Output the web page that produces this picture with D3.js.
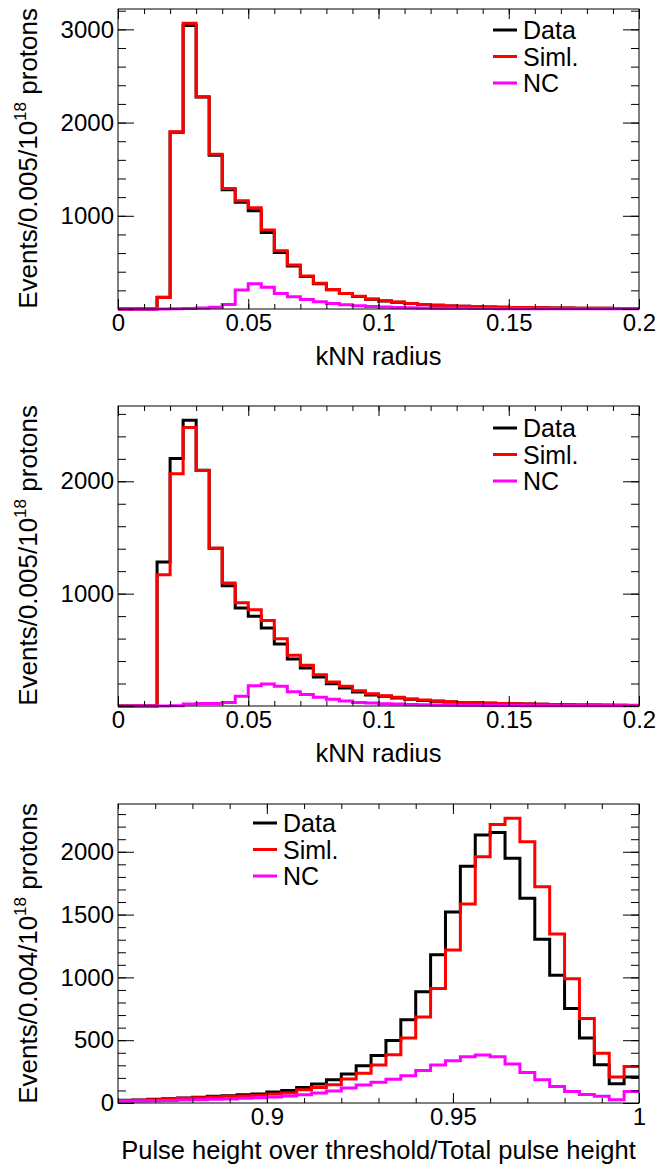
<!DOCTYPE html>
<html>
<head>
<meta charset="utf-8">
<script src="https://cdn.jsdelivr.net/npm/d3@7"></script>
<style>
  body { margin: 0; background: #fff; }
  svg text { font-family: "Liberation Sans", Arial, Helvetica, sans-serif; fill: #000; }
</style>
</head>
<body>
<svg id="chart" width="657" height="1166"></svg>
<script>
// ---- Histogram contents ----
// kNN radius, bins of 0.005 from 0 to 0.2 (selection A)
const knnA_data = [0,0,0,125,1895,3040,2275,1650,1280,1145,1055,822,607,460,348,270,207,165,135,104,86,72,59,48,40,33,29,25,22,19,17,15,13,11,10,9,8,7,6,5];
const knnA_siml = [0,0,0,124,1901,3065,2277,1659,1294,1161,1086,847,624,471,353,275,210,167,138,106,88,74,60,49,40,33,30,26,22,20,17,15,13,11,10,9,8,7,6,5];
const knnA_nc   = [0,0,0,0,3,6,10,20,48,203,271,232,167,131,103,77,60,45,34,27,21,17,14,11,9,8,7,6,5,4,4,3,3,3,2,2,2,2,2,2];

// kNN radius, bins of 0.005 from 0 to 0.2 (selection B)
const knnB_data = [0,0,0,1282,2202,2543,2098,1403,1071,873,798,694,552,418,338,258,198,160,124,99,86,71,59,50,42,36,31,28,25,22,19,17,15,13,11,10,8,7,6,5];
const knnB_siml = [0,0,0,1169,2068,2478,2095,1405,1095,920,857,760,599,451,362,279,213,175,136,110,92,77,62,53,44,38,32,29,26,23,20,18,16,14,12,10,9,8,7,6];
const knnB_nc   = [0,0,0,0,3,18,23,23,32,86,181,196,175,127,103,77,59,44,32,26,20,17,14,11,9,8,7,6,5,4,4,3,3,3,2,2,2,2,2,2];

// Pulse-height fraction, bins of 0.004 from 0.86 to 1.0
const phf_data = [21,24,29,34,40,45,53,58,66,71,87,100,124,151,185,230,297,378,498,662,885,1181,1521,1884,2133,2154,1948,1630,1304,1017,752,517,304,153,207];
const phf_siml = [19,21,26,32,37,42,48,53,56,62,71,79,106,124,145,191,236,302,384,517,684,911,1219,1584,1960,2218,2267,2080,1722,1346,990,673,397,207,291];
const phf_nc   = [13,15,17,20,23,26,29,32,37,42,48,56,66,79,95,119,143,165,190,217,259,302,336,368,382,368,310,243,185,132,92,68,53,26,92];

// ---- Axis ticks ----
const knnTicks = [0, 0.05, 0.1, 0.15, 0.2];
const knnTickLabels = ["0", "0.05", "0.1", "0.15", "0.2"];
const phfTicks = [0.9, 0.95, 1.0];
const phfTickLabels = ["0.9", "0.95", "1"];
const knnYTicks = [0, 1000, 2000, 3000];
const knnYTickLabels = ["", "1000", "2000", "3000"];
const phfYTicks = [0, 500, 1000, 1500, 2000];
const phfYTickLabels = ["0", "500", "1000", "1500", "2000"];

const seriesNames = ["Data", "Siml.", "NC"];
const seriesColors = ["#000000", "#ff0000", "#ff00ff"];

const panels = [
  { top: 9, bottom: 309, xRange: [0, 0.2], binW: 0.005, series: [knnA_data, knnA_siml, knnA_nc],
    xTicks: knnTicks, xLabels: knnTickLabels, xMinorStep: 0.01,
    yTicks: knnYTicks, yLabels: knnYTickLabels, yMinorStep: 200,
    xTitle: "kNN radius", yTitle: ["Events/0.005/10", "18", " protons"], legend: { x: 493, y: 30 } },
  { top: 406, bottom: 706, xRange: [0, 0.2], binW: 0.005, series: [knnB_data, knnB_siml, knnB_nc],
    xTicks: knnTicks, xLabels: knnTickLabels, xMinorStep: 0.01,
    yTicks: knnYTicks, yLabels: knnYTickLabels, yMinorStep: 200,
    xTitle: "kNN radius", yTitle: ["Events/0.005/10", "18", " protons"], legend: { x: 493, y: 428 } },
  { top: 804, bottom: 1103, xRange: [0.86, 1.0], binW: 0.004, series: [phf_data, phf_siml, phf_nc],
    xTicks: phfTicks, xLabels: phfTickLabels, xMinorStep: 0.01,
    yTicks: phfYTicks, yLabels: phfYTickLabels, yMinorStep: 100,
    xTitle: "Pulse height over threshold/Total pulse height", yTitle: ["Events/0.004/10", "18", " protons"], legend: { x: 253, y: 823 } }
];

const LEFT = 118, RIGHT = 639;
const svg = d3.select("#chart");

function rangeStep(lo, hi, step) {
  const n = Math.round((hi - lo) / step);
  return d3.range(n + 1).map(i => +(lo + i * step).toFixed(6));
}

panels.forEach((p, pi) => {
  const x = d3.scaleLinear().domain(p.xRange).range([LEFT, RIGHT]);
  const yMax = 1.05 * d3.max(p.series.flat());
  const y = d3.scaleLinear().domain([0, yMax]).range([p.bottom, p.top]);
  const g = svg.append("g");

  const clipId = "clip" + pi;
  svg.append("clipPath").attr("id", clipId)
    .append("rect").attr("x", LEFT).attr("y", p.top - 2)
    .attr("width", RIGHT - LEFT).attr("height", p.bottom - p.top + 4);

  // histogram outlines
  const nb = p.series[0].length;
  const edges = d3.range(nb + 1).map(i => p.xRange[0] + i * p.binW);
  const line = d3.line().x(d => x(d[0])).y(d => y(d[1])).curve(d3.curveStepAfter);
  const hg = g.append("g").attr("clip-path", `url(#${clipId})`);
  p.series.forEach((vals, si) => {
    const pts = vals.map((v, i) => [edges[i], v]);
    pts.push([edges[nb], vals[nb - 1]]);
    hg.append("path").attr("d", line(pts))
      .attr("fill", "none").attr("stroke", seriesColors[si])
      .attr("stroke-width", 3).attr("stroke-linejoin", "miter").attr("stroke-linecap", "butt");
  });

  // frame
  g.append("rect").attr("x", LEFT).attr("y", p.top)
    .attr("width", RIGHT - LEFT).attr("height", p.bottom - p.top)
    .attr("fill", "none").attr("stroke", "#000").attr("stroke-width", 1);

  const xMinor = rangeStep(p.xRange[0], p.xRange[1], p.xMinorStep);
  const yMinor = rangeStep(0, Math.floor(yMax / p.yMinorStep) * p.yMinorStep, p.yMinorStep);
  // only major ticks that fall inside the plotted range
  const yMajorIdx = p.yTicks.map((t, i) => i).filter(i => p.yTicks[i] <= yMax);
  const yMajor = yMajorIdx.map(i => p.yTicks[i]);
  const yMajorLabels = yMajorIdx.map(i => p.yLabels[i]);

  // x axis (bottom, labelled) and top mirror, ticks pointing inward
  const xb = g.append("g").attr("transform", `translate(0,${p.bottom})`)
    .call(d3.axisBottom(x).tickValues(p.xTicks).tickSize(-10).tickPadding(5)
      .tickFormat((d, i) => p.xLabels[i]));
  xb.append("g").call(d3.axisBottom(x).tickValues(xMinor).tickSize(-5).tickFormat(""));
  const xt = g.append("g").attr("transform", `translate(0,${p.top})`);
  xt.append("g").call(d3.axisTop(x).tickValues(p.xTicks).tickSize(-10).tickFormat(""));
  xt.append("g").call(d3.axisTop(x).tickValues(xMinor).tickSize(-5).tickFormat(""));

  // y axis (left, labelled) and right mirror
  const yl = g.append("g").attr("transform", `translate(${LEFT},0)`)
    .call(d3.axisLeft(y).tickValues(yMajor).tickSize(-16).tickPadding(4)
      .tickFormat((d, i) => yMajorLabels[i]));
  yl.append("g").call(d3.axisLeft(y).tickValues(yMinor).tickSize(-8).tickFormat(""));
  const yr = g.append("g").attr("transform", `translate(${RIGHT},0)`);
  yr.append("g").call(d3.axisRight(y).tickValues(yMajor).tickSize(-16).tickFormat(""));
  yr.append("g").call(d3.axisRight(y).tickValues(yMinor).tickSize(-8).tickFormat(""));

  g.selectAll(".domain").remove();
  g.selectAll(".tick line").attr("stroke", "#000").attr("stroke-width", 1);
  g.selectAll(".tick text").attr("font-size", 24).attr("font-family", null).attr("fill", "#000");

  // axis titles
  g.append("text").attr("x", (LEFT + RIGHT) / 2).attr("y", p.bottom + 56)
    .attr("text-anchor", "middle").attr("font-size", 25.5).text(p.xTitle);
  const yt = g.append("text")
    .attr("transform", `translate(37,${p.top - 1}) rotate(-90)`)
    .attr("text-anchor", "end").attr("font-size", 26);
  yt.append("tspan").text(p.yTitle[0]);
  yt.append("tspan").attr("font-size", 17).attr("dy", -11).text(p.yTitle[1]);
  yt.append("tspan").attr("dy", 11).text(p.yTitle[2]);

  // legend
  seriesNames.forEach((name, si) => {
    const ly = p.legend.y + si * 26.5;
    g.append("line").attr("x1", p.legend.x).attr("x2", p.legend.x + 24)
      .attr("y1", ly).attr("y2", ly).attr("stroke", seriesColors[si]).attr("stroke-width", 3);
    g.append("text").attr("x", p.legend.x + 30).attr("y", ly + 9)
      .attr("font-size", 25).text(name);
  });
});
</script>
</body>
</html>
